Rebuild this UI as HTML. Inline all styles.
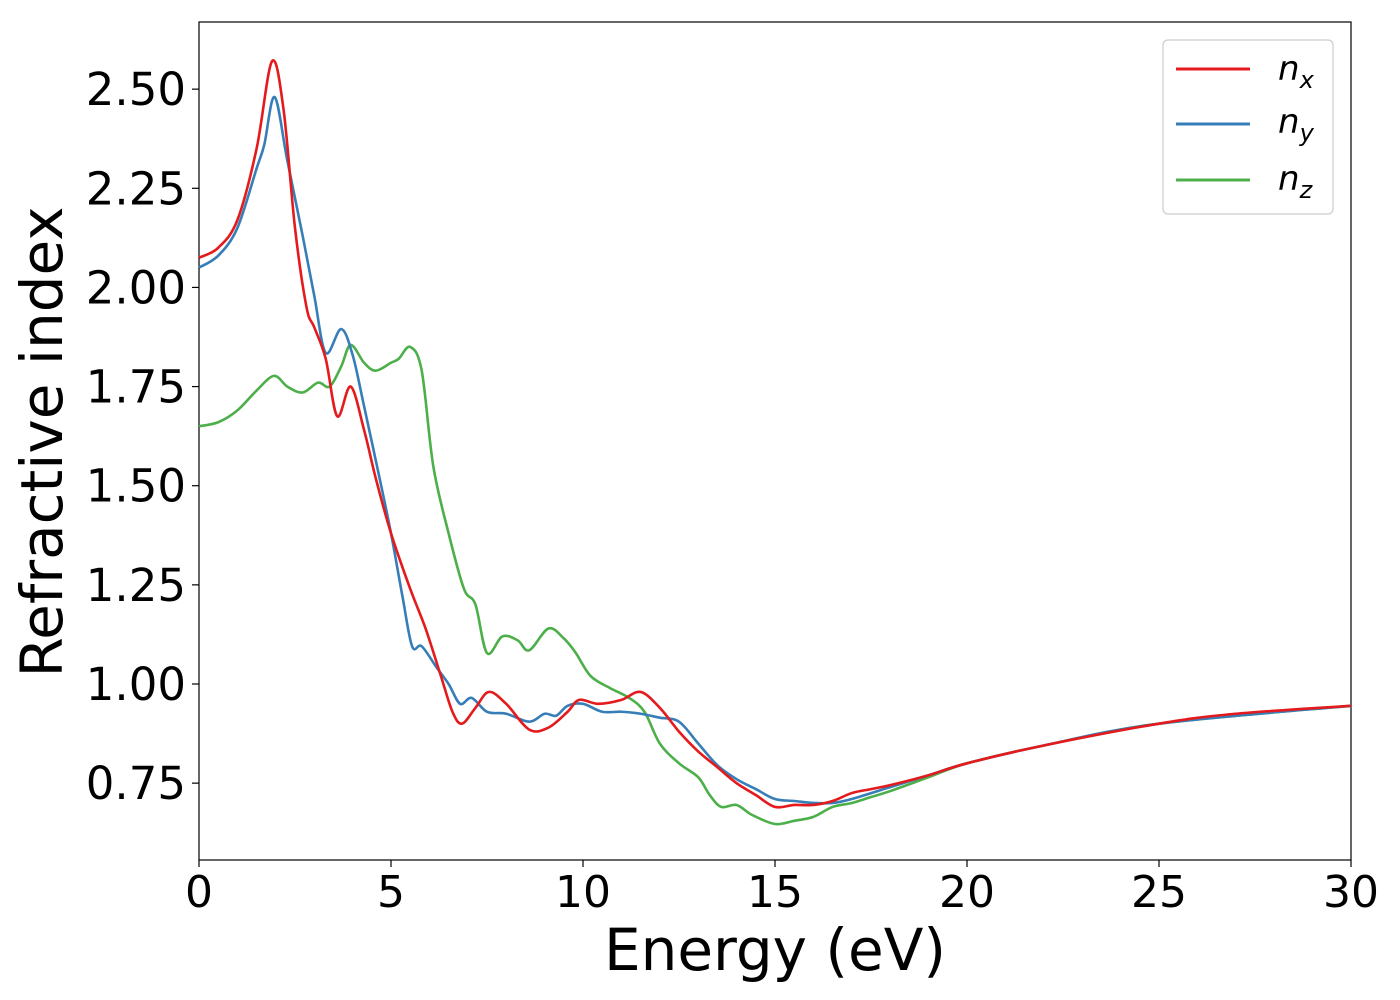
<!DOCTYPE html>
<html><head><meta charset="utf-8"><style>
body{margin:0;background:#fff;}
svg{display:block;font-family:"DejaVu Sans","Liberation Sans",sans-serif;}
</style></head><body>
<svg id="chart" width="1400" height="1000">
<rect x="199" y="22" width="1152" height="838" fill="none" stroke="#000" stroke-width="1.2"/>
<g id="lines"></g>
<g id="axes"></g>
<text x="775" y="970" font-size="58" text-anchor="middle">Energy (eV)</text>
<text transform="translate(62,442) rotate(-90)" font-size="58" text-anchor="middle">Refractive index</text>
<g>
<rect x="1163" y="40" width="170" height="174" rx="5" fill="#fff" stroke="#ccc" stroke-width="1.2"/>
<line x1="1176" y1="69" x2="1250" y2="69" stroke="#e41a1c" stroke-width="3"/>
<text x="1278" y="80" font-size="34" font-style="italic">n<tspan font-size="24" dy="8">x</tspan></text>
<line x1="1176" y1="124" x2="1250" y2="124" stroke="#377eb8" stroke-width="3"/>
<text x="1278" y="133" font-size="34" font-style="italic">n<tspan font-size="24" dy="8">y</tspan></text>
<line x1="1176" y1="180" x2="1250" y2="180" stroke="#4daf4a" stroke-width="3"/>
<text x="1278" y="190" font-size="34" font-style="italic">n<tspan font-size="24" dy="8">z</tspan></text>
</g>
</svg>
<script>
const xTicks=[0,5,10,15,20,25,30];
const yTicks=[0.75,1.00,1.25,1.50,1.75,2.00,2.25,2.50];
const nxE=[0,0.5,1.0,1.5,1.9,2.2,2.5,2.8,3.0,3.3,3.6,3.95,4.3,4.6,5.0,5.5,5.9,6.3,6.6,6.85,7.2,7.55,8.0,8.6,9.1,9.6,9.9,10.4,11.0,11.5,12.0,12.5,13.0,13.5,14.0,14.5,15.0,15.5,16,16.5,17,17.5,18,19,20,22,25,27,30];
const nxV=[2.075,2.10,2.17,2.35,2.57,2.45,2.15,1.95,1.90,1.82,1.675,1.75,1.64,1.52,1.38,1.24,1.14,1.02,0.93,0.90,0.94,0.98,0.95,0.885,0.89,0.93,0.96,0.95,0.96,0.98,0.94,0.88,0.83,0.79,0.75,0.72,0.69,0.695,0.695,0.705,0.725,0.735,0.745,0.77,0.80,0.845,0.90,0.925,0.945];
const nyE=[0,0.5,1.0,1.5,1.7,1.97,2.3,2.7,3.0,3.3,3.7,4.0,4.3,4.7,5.0,5.3,5.55,5.8,6.2,6.5,6.8,7.1,7.5,8.0,8.6,9.0,9.3,9.6,10.0,10.5,11.0,11.5,12.0,12.5,13.0,13.5,14.0,14.5,15.0,15.5,16,16.5,17,18,19,20,22,25,30];
const nyV=[2.05,2.08,2.15,2.30,2.36,2.48,2.32,2.13,1.98,1.835,1.895,1.83,1.70,1.52,1.38,1.22,1.095,1.095,1.04,1.00,0.95,0.965,0.93,0.925,0.905,0.925,0.92,0.945,0.95,0.93,0.93,0.925,0.915,0.905,0.85,0.795,0.76,0.735,0.71,0.705,0.70,0.70,0.71,0.74,0.77,0.80,0.845,0.90,0.945];
const nzE=[0,0.5,1.0,1.5,1.95,2.3,2.7,3.1,3.4,3.7,3.95,4.3,4.6,5.0,5.2,5.5,5.8,6.1,6.5,6.9,7.2,7.5,7.9,8.3,8.6,9.1,9.5,9.8,10.2,10.7,11.2,11.6,12.0,12.5,13.0,13.3,13.6,14.0,14.4,15.0,15.5,16.0,16.5,17,17.5,18,19,20,22,25,30];
const nzV=[1.65,1.66,1.69,1.74,1.777,1.75,1.735,1.76,1.75,1.80,1.855,1.81,1.79,1.81,1.82,1.85,1.79,1.55,1.38,1.24,1.20,1.078,1.12,1.11,1.085,1.14,1.115,1.08,1.02,0.99,0.965,0.93,0.85,0.80,0.765,0.72,0.69,0.695,0.67,0.647,0.655,0.665,0.69,0.70,0.715,0.73,0.765,0.80,0.845,0.90,0.945];
const X=v=>199+v*38.4;
const Y=v=>684-(v-1.0)*396.57;
const NS='http://www.w3.org/2000/svg';
const axes=document.getElementById('axes');
function mk(t,a){const e=document.createElementNS(NS,t);for(const k in a)e.setAttribute(k,a[k]);return e;}
xTicks.forEach(t=>{
 const l=mk('line',{x1:X(t),x2:X(t),y1:860,y2:867,stroke:'#000','stroke-width':1.2});
 
 
 axes.appendChild(l);
 const s=mk('text',{x:X(t),y:907,'font-size':44,'text-anchor':'middle'});
 
 
 s.textContent=t;axes.appendChild(s);
});
yTicks.forEach(t=>{
 const l=mk('line',{x1:192,x2:199,y1:Y(t),y2:Y(t),stroke:'#000','stroke-width':1.2});
 
 
 axes.appendChild(l);
 const s=mk('text',{x:186,y:Y(t)+16,'font-size':45,'text-anchor':'end'});
 
 
 s.textContent=t.toFixed(2);axes.appendChild(s);
});
function pathD(E,V){
 const p=E.map((e,i)=>[X(e),Y(V[i])]);
 let d='M'+p[0][0]+','+p[0][1];
 for(let i=0;i<p.length-1;i++){
  const p0=p[Math.max(i-1,0)],p1=p[i],p2=p[i+1],p3=p[Math.min(i+2,p.length-1)];
  const c1=[p1[0]+(p2[0]-p0[0])/6,p1[1]+(p2[1]-p0[1])/6];
  const c2=[p2[0]-(p3[0]-p1[0])/6,p2[1]-(p3[1]-p1[1])/6];
  d+=' C'+c1.join(',')+' '+c2.join(',')+' '+p2.join(',');
 }
 return d;
}
const g=document.getElementById('lines');
[[nzE,nzV,'#4daf4a','line-nz'],[nyE,nyV,'#377eb8','line-ny'],[nxE,nxV,'#e41a1c','line-nx']].forEach(s=>{
 const p=mk('path',{d:pathD(s[0],s[1]),fill:'none',stroke:s[2],'stroke-width':2.6});
 
 
 g.appendChild(p);
});
</script>
</body></html>
